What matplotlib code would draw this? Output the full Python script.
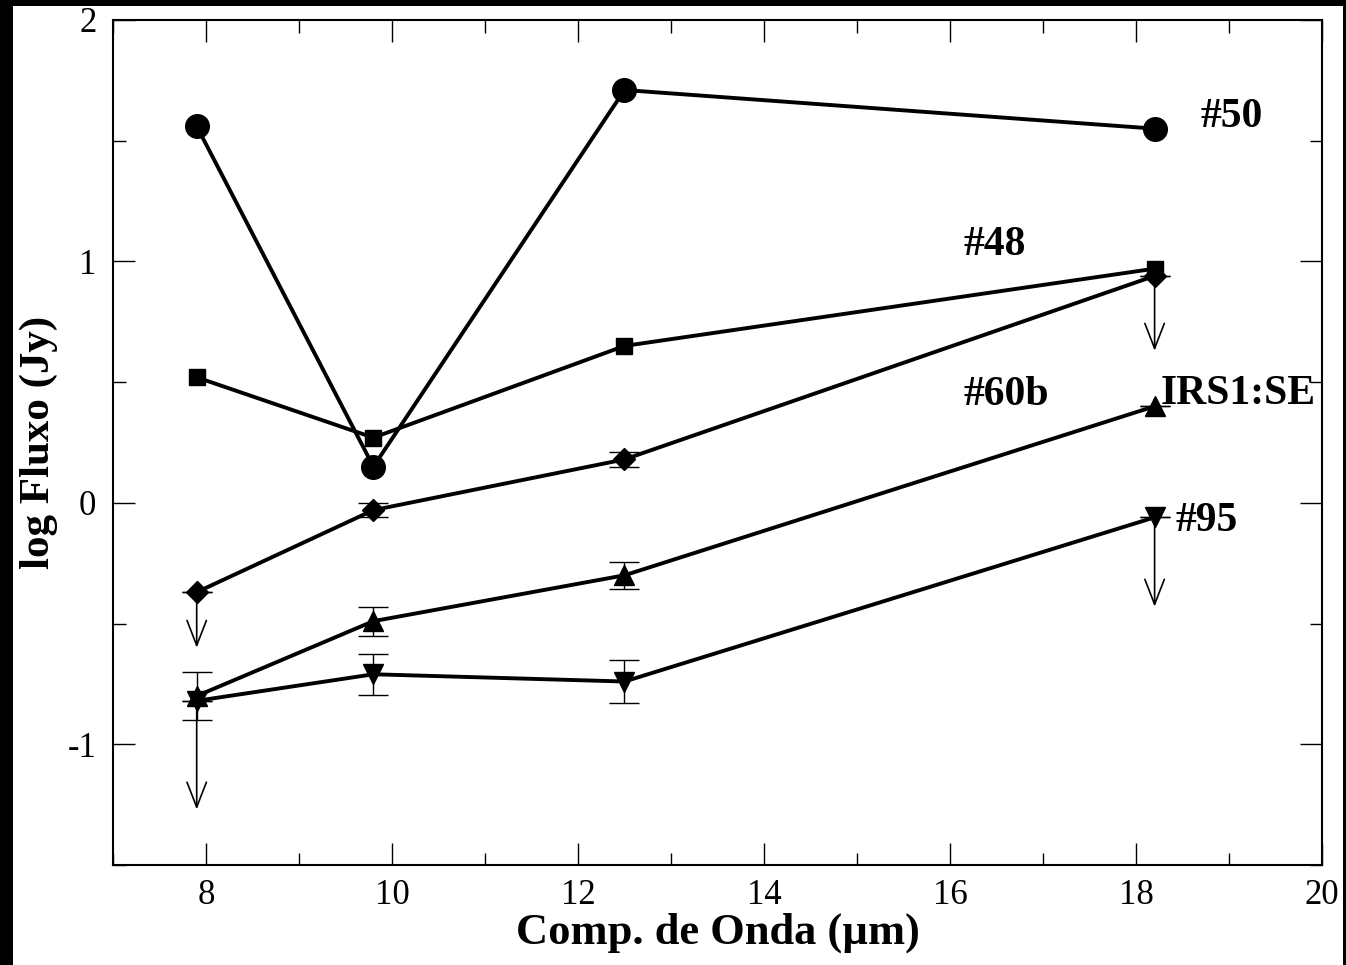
import numpy as np
import matplotlib.pyplot as plt
from matplotlib.patches import Rectangle

plt.rcParams['font.family'] = ['Liberation Serif', 'DejaVu Serif']
plt.rcParams['axes.unicode_minus'] = False

# wavelengths (micron)
wl = [7.9, 9.8, 12.5, 18.2]

# log flux (Jy) per source
f50 = [1.56, 0.15, 1.71, 1.55]
f48 = [0.52, 0.27, 0.65, 0.97]
f60b = [-0.37, -0.03, 0.18, 0.94]
firs1 = [-0.80, -0.49, -0.30, 0.40]
f95 = [-0.82, -0.71, -0.74, -0.06]

# error bars (0 = none)
e60b = [0.0, 0.03, 0.03, 0.0]
eirs1 = [0.10, 0.06, 0.055, 0.0]
e95 = [0.0, 0.085, 0.09, 0.0]

# upper limits: x, start, end
ul_x = [7.9, 18.2, 7.9, 18.2]
ul_from = [-0.37, 0.94, -0.82, -0.06]
ul_to = [-0.60, 0.63, -1.27, -0.43]

labels = ['#50', '#48', '#60b', 'IRS1:SE', '#95']
label_x = [18.69, 16.14, 16.14, 18.27, 18.42]
label_y = [1.60, 1.07, 0.447, 0.45, -0.075]

fig = plt.figure(figsize=(13.46, 9.65), dpi=100, facecolor='black')
fig.patches.append(Rectangle((13 / 1346, 0), (1343 - 13) / 1346, 959 / 965,
                             transform=fig.transFigure, facecolor='white',
                             edgecolor='none', zorder=-10))
ax = fig.add_axes([113 / 1346, 100 / 965, (1322 - 113) / 1346, (865 - 20) / 965])

lw = 2.8
ax.plot(wl, f50, '-o', color='black', lw=lw, ms=17)
ax.plot(wl, f48, '-s', color='black', lw=lw, ms=12)
ax.errorbar(wl, f60b, yerr=e60b, fmt='-D', color='black', lw=lw, ms=11,
            elinewidth=1, capsize=11, capthick=1)
ax.errorbar(wl, firs1, yerr=eirs1, fmt='-^', color='black', lw=lw, ms=14,
            elinewidth=1, capsize=11, capthick=1)
ax.errorbar(wl, f95, yerr=e95, fmt='-v', color='black', lw=lw, ms=14,
            elinewidth=1, capsize=11, capthick=1)

for x, y0, y1 in zip(ul_x, ul_from, ul_to):
    ax.annotate('', xy=(x, y1), xytext=(x, y0),
                arrowprops=dict(arrowstyle='->,head_length=0.9,head_width=0.35',
                                color='black', lw=1.2, mutation_scale=20,
                                shrinkA=0, shrinkB=0))

for t, x, y in zip(labels, label_x, label_y):
    ax.text(x, y, t, fontsize=30, fontweight='bold', ha='left', va='center')

ax.set_xlim(7, 20)
ax.set_ylim(-1.5, 2)
ax.set_xticks(np.arange(8, 21, 2))
ax.set_xticks(np.arange(7, 21, 1), minor=True)
ax.set_yticks([-1, 0, 1, 2])
ax.set_yticks(np.arange(-1.5, 2.01, 0.5), minor=True)
ax.tick_params(which='both', direction='in', top=True, right=True,
               width=1, labelsize=25)
ax.tick_params(which='major', length=16, pad=12)
ax.tick_params(axis='x', which='major', pad=10)
ax.tick_params(which='minor', length=9)
for s in ax.spines.values():
    s.set_linewidth(1.5)

ax.set_xlabel('Comp. de Onda (\u00b5m)', fontsize=32, fontweight='bold')
ax.xaxis.set_label_coords(0.5, -48 / 845)
ax.set_ylabel('log Fluxo (Jy)', fontsize=31, fontweight='bold')
ax.yaxis.set_label_coords(-55 / 1209, 0.5)

fig.savefig('out.png', dpi=100, facecolor='black')
